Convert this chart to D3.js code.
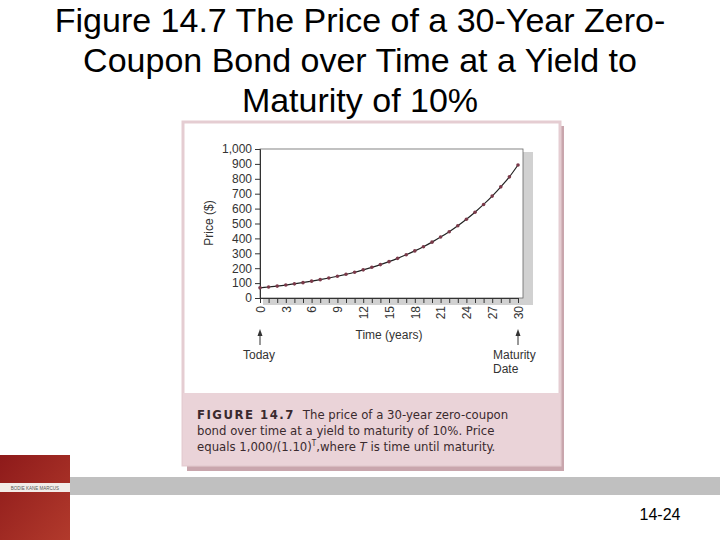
<!DOCTYPE html>
<html>
<head>
<meta charset="utf-8">
<script src="https://d3js.org/d3.v7.min.js"></script>
<style>
  body { margin: 0; background: #fff; }
  svg { display: block; }
</style>
</head>
<body>
<svg id="slide" width="720" height="540"></svg>
<script>
// Values
var years = [0,1,2,3,4,5,6,7,8,9,10,11,12,13,14,15,16,17,18,19,20,21,22,23,24,25,26,27,28,29,30];
var prices = [68,74,80,87,95,103,113,123,134,146,159,173,189,206,224,244,266,290,316,344,375,409,445,485,529,576,628,684,746,813,893];
var yTicks = [0,100,200,300,400,500,600,700,800,900,1000];
var xTicks = [0,3,6,9,12,15,18,21,24,27,30];

var svg = d3.select("#slide");
var font = "Liberation Sans, Arial, sans-serif";

// Slide title
var title = ["Figure 14.7 The Price of a 30-Year Zero-", "Coupon Bond over Time at a Yield to", "Maturity of 10%"];
svg.selectAll(".title").data(title).enter().append("text")
  .attr("x", 360).attr("y", function (d, i) { return 32 + i * 40; })
  .attr("text-anchor", "middle").attr("font-family", font).attr("font-size", 34)
  .text(function (d) { return d; });

// Figure card
svg.append("rect").attr("x", 187).attr("y", 126).attr("width", 377).attr("height", 345).attr("fill", "#c9a6ad");
svg.append("rect").attr("x", 183).attr("y", 122).attr("width", 377).attr("height", 343)
  .attr("fill", "#fff").attr("stroke", "#e5cdd2").attr("stroke-width", 3);
svg.append("rect").attr("x", 183).attr("y", 393).attr("width", 377).attr("height", 72).attr("fill", "#ead3d8");

var cap = svg.append("text").attr("font-family", "DejaVu Sans Condensed, DejaVu Sans, sans-serif").attr("font-size", 13).attr("fill", "#3a2a2e");
cap.append("tspan").attr("x", 197).attr("y", 419).attr("font-weight", "bold").attr("letter-spacing", 1.5).text("FIGURE 14.7");
cap.append("tspan").attr("dx", 8).text("The price of a 30-year zero-coupon");
cap.append("tspan").attr("x", 197).attr("y", 435).text("bond over time at a yield to maturity of 10%. Price");
cap.append("tspan").attr("x", 197).attr("y", 451).text("equals 1,000/(1.10)");
cap.append("tspan").attr("font-size", 8).attr("dy", -5).text("T");
cap.append("tspan").attr("dy", 5).text(",where ");
cap.append("tspan").attr("font-style", "italic").text("T");
cap.append("tspan").text(" is time until maturity.");

// Plot
var x = d3.scaleLinear().domain([0, 30]).range([260, 518]);
var y = d3.scaleLinear().domain([0, 1000]).range([298, 149]);

svg.append("rect").attr("x", 263).attr("y", 152).attr("width", 270).attr("height", 153).attr("fill", "#bdbdbd").attr("opacity", 0.7);
svg.append("rect").attr("x", 260).attr("y", 149).attr("width", 263).attr("height", 149)
  .attr("fill", "#fff").attr("stroke", "#666").attr("stroke-width", 0.8);

var yAxis = svg.append("g").attr("transform", "translate(260,0)")
  .call(d3.axisLeft(y).tickValues(yTicks).tickSize(5).tickFormat(d3.format(",")));
var xAxis = svg.append("g").attr("transform", "translate(0,298)")
  .call(d3.axisBottom(x).tickValues(years).tickSize(5).tickFormat(function (d) { return xTicks.indexOf(d) >= 0 ? d : ""; }));
[yAxis, xAxis].forEach(function (g) {
  g.selectAll("text").attr("font-family", font).attr("font-size", 12).attr("fill", "#333");
  g.selectAll("line,path").attr("stroke", "#333");
});
xAxis.selectAll("text").attr("transform", "rotate(-90)").attr("text-anchor", "end")
  .attr("x", -8).attr("y", 0).attr("dy", "0.35em");

svg.append("text").attr("transform", "translate(213,223) rotate(-90)").attr("text-anchor", "middle")
  .attr("font-family", font).attr("font-size", 12).attr("fill", "#333").text("Price ($)");
svg.append("text").attr("x", 389).attr("y", 339).attr("text-anchor", "middle")
  .attr("font-family", font).attr("font-size", 12).attr("fill", "#333").text("Time (years)");

var pts = years.map(function (t, i) { return [t, prices[i]]; });
svg.append("path").datum(pts).attr("fill", "none").attr("stroke", "#222").attr("stroke-width", 1.2)
  .attr("d", d3.line().x(function (d) { return x(d[0]); }).y(function (d) { return y(d[1]); }).curve(d3.curveMonotoneX));
svg.selectAll(".dot").data(pts).enter().append("circle")
  .attr("cx", function (d) { return x(d[0]); }).attr("cy", function (d) { return y(d[1]); })
  .attr("r", 1.8).attr("fill", "#7a3a4a");

// Arrows and annotations
[0, 30].forEach(function (t) {
  var ax = x(t);
  svg.append("line").attr("x1", ax).attr("x2", ax).attr("y1", 345).attr("y2", 332).attr("stroke", "#333");
  svg.append("path").attr("d", "M" + (ax - 2.5) + ",336 L" + ax + ",329 L" + (ax + 2.5) + ",336 Z").attr("fill", "#333");
});
svg.append("text").attr("x", 243).attr("y", 359).attr("font-family", font).attr("font-size", 12).attr("fill", "#333").text("Today");
svg.append("text").attr("x", 493).attr("y", 359).attr("font-family", font).attr("font-size", 12).attr("fill", "#333").text("Maturity");
svg.append("text").attr("x", 493).attr("y", 373).attr("font-family", font).attr("font-size", 12).attr("fill", "#333").text("Date");

// Footer
svg.append("rect").attr("x", 70).attr("y", 477).attr("width", 650).attr("height", 18).attr("fill", "#c0c0c0");
var grad = svg.append("defs").append("linearGradient").attr("id", "book").attr("x1", 0).attr("y1", 0).attr("x2", 1).attr("y2", 1);
grad.append("stop").attr("offset", 0).attr("stop-color", "#8e1a1a");
grad.append("stop").attr("offset", 1).attr("stop-color", "#b23a2c");
svg.append("rect").attr("x", 0).attr("y", 455).attr("width", 70).attr("height", 85).attr("fill", "url(#book)");
svg.append("rect").attr("x", 0).attr("y", 483).attr("width", 70).attr("height", 9).attr("fill", "#f2ece8");
svg.append("text").attr("x", 35).attr("y", 490).attr("text-anchor", "middle").attr("font-family", font)
  .attr("font-size", 4.5).attr("fill", "#555").text("BODIE  KANE  MARCUS");
svg.append("text").attr("x", 660).attr("y", 520).attr("text-anchor", "middle").attr("font-family", font)
  .attr("font-size", 16).text("14-24");
</script>
</body>
</html>
